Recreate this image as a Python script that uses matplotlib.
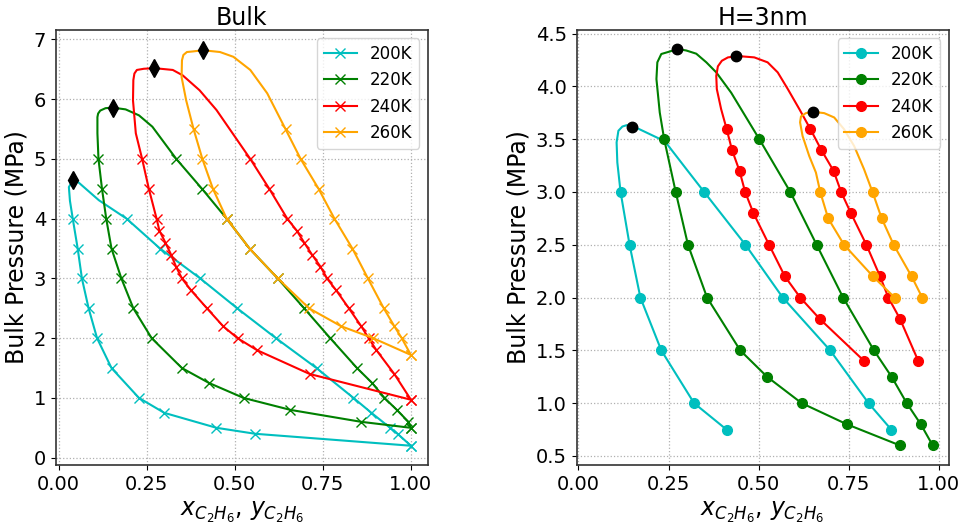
import numpy as np
import matplotlib.pyplot as plt

temps = ['200K', '220K', '240K', '260K']
colors = ['c', 'g', 'r', 'orange']

# ---------------- Bulk ----------------
# pressures (MPa) of the simulated points, vapour (y) and liquid (x) ethane fractions
bulk_p_200 = [0.2, 0.4, 0.5, 0.75, 1.0, 1.5, 2.0, 2.5, 3.0, 3.5, 4.0]
bulk_y_200 = [1.0, 0.558, 0.448, 0.300, 0.228, 0.150, 0.109, 0.085, 0.066, 0.054, 0.040]
bulk_x_200 = [1.0, 0.962, 0.941, 0.888, 0.837, 0.732, 0.617, 0.507, 0.402, 0.288, 0.193]

bulk_p_220 = [0.5, 0.6, 0.8, 1.0, 1.25, 1.5, 2.0, 2.5, 3.0, 3.5, 4.0, 4.5, 5.0]
bulk_y_220 = [1.0, 0.859, 0.658, 0.525, 0.427, 0.350, 0.264, 0.212, 0.178, 0.150, 0.135, 0.123, 0.113]
bulk_x_220 = [1.0, 0.993, 0.960, 0.925, 0.890, 0.847, 0.771, 0.697, 0.622, 0.542, 0.477, 0.407, 0.334]

bulk_p_240 = [0.97, 1.4, 1.8, 2.0, 2.2, 2.5, 2.8, 3.0, 3.2, 3.4, 3.6, 3.8, 4.0, 4.5, 5.0]
bulk_y_240 = [1.0, 0.713, 0.563, 0.508, 0.467, 0.421, 0.376, 0.350, 0.333, 0.319, 0.303, 0.286, 0.278, 0.256, 0.237]
bulk_x_240 = [1.0, 0.953, 0.902, 0.880, 0.859, 0.824, 0.788, 0.762, 0.743, 0.719, 0.697, 0.676, 0.649, 0.598, 0.544]

bulk_p_260 = [1.72, 2.0, 2.2, 2.5, 3.0, 3.5, 4.0, 4.5, 5.0, 5.5]
bulk_y_260 = [1.0, 0.893, 0.802, 0.711, 0.622, 0.542, 0.477, 0.438, 0.408, 0.383]
bulk_x_260 = [1.0, 0.974, 0.953, 0.923, 0.878, 0.834, 0.783, 0.738, 0.687, 0.644]

# critical points
bulk_crit_x = [0.041, 0.153, 0.272, 0.410]
bulk_crit_p = [4.65, 5.86, 6.52, 6.82]

# envelope curve near the critical point (vapour side, then liquid side)
bulk_top_vap = [
    [[0.032, 4.30], [0.029, 4.53]],
    [[0.110, 5.43], [0.110, 5.70], [0.112, 5.76], [0.118, 5.81], [0.133, 5.85]],
    [[0.219, 5.43], [0.211, 5.98], [0.212, 6.32], [0.215, 6.43], [0.222, 6.49], [0.242, 6.51]],
    [[0.362, 5.98], [0.349, 6.37], [0.350, 6.65], [0.354, 6.74], [0.364, 6.79], [0.381, 6.80]],
]
bulk_top_liq = [
    [[0.050, 4.64], [0.114, 4.31]],
    [[0.190, 5.83], [0.228, 5.73], [0.266, 5.54]],
    [[0.324, 6.49], [0.352, 6.40], [0.400, 6.15], [0.448, 5.82]],
    [[0.458, 6.79], [0.496, 6.71], [0.544, 6.49], [0.592, 6.10]],
]

# ---------------- H = 3 nm ----------------
pore_p_200 = [0.75, 1.0, 1.5, 2.0, 2.5, 3.0]
pore_y_200 = [0.411, 0.321, 0.230, 0.172, 0.142, 0.117]
pore_x_200 = [0.868, 0.805, 0.6985, 0.567, 0.4635, 0.349]

pore_p_220 = [0.6, 0.8, 1.0, 1.25, 1.5, 2.0, 2.5, 3.0, 3.5]
pore_y_220 = [0.892, 0.745, 0.6195, 0.5235, 0.449, 0.357, 0.304, 0.270, 0.238]
pore_x_220 = [0.983, 0.950, 0.911, 0.869, 0.820, 0.7345, 0.661, 0.588, 0.502]

pore_p_240 = [1.4, 1.8, 2.0, 2.2, 2.5, 2.8, 3.0, 3.2, 3.4, 3.6]
pore_y_240 = [0.7926, 0.669, 0.6156, 0.573, 0.529, 0.4856, 0.4627, 0.447, 0.426, 0.411]
pore_x_240 = [0.943, 0.892, 0.860, 0.837, 0.799, 0.756, 0.729, 0.708, 0.6737, 0.643]

pore_p_260 = [2.0, 2.2, 2.5, 2.75, 3.0]
pore_y_260 = [0.8775, 0.8175, 0.737, 0.693, 0.671]
pore_x_260 = [0.954, 0.9245, 0.8747, 0.8415, 0.816]

pore_crit_x = [0.148, 0.2746, 0.438, 0.650]
pore_crit_p = [3.62, 4.355, 4.285, 3.76]

pore_top_vap = [
    [[0.108, 3.28], [0.106, 3.47], [0.111, 3.58], [0.122, 3.62], [0.134, 3.633]],
    [[0.2257, 3.753], [0.2165, 4.07], [0.219, 4.228], [0.230, 4.307], [0.253, 4.33]],
    [[0.396, 3.785], [0.384, 3.975], [0.3825, 4.10], [0.387, 4.19], [0.398, 4.243], [0.415, 4.275]],
    [[0.659, 3.184], [0.6405, 3.34], [0.622, 3.53], [0.615, 3.66], [0.6175, 3.715], [0.631, 3.747]],
]
pore_top_liq = [
    [[0.166, 3.60], [0.203, 3.54], [0.240, 3.48], [0.300, 3.215]],
    [[0.2995, 4.34], [0.327, 4.31], [0.355, 4.228], [0.3825, 4.133], [0.424, 3.94]],
    [[0.4516, 4.285], [0.488, 4.275], [0.525, 4.228], [0.553, 4.133], [0.581, 3.975], [0.613, 3.785]],
    [[0.682, 3.747], [0.7097, 3.706], [0.737, 3.595], [0.765, 3.436], [0.7926, 3.215]],
]

bulk = [(bulk_p_200, bulk_y_200, bulk_x_200), (bulk_p_220, bulk_y_220, bulk_x_220),
        (bulk_p_240, bulk_y_240, bulk_x_240), (bulk_p_260, bulk_y_260, bulk_x_260)]
pore = [(pore_p_200, pore_y_200, pore_x_200), (pore_p_220, pore_y_220, pore_x_220),
        (pore_p_240, pore_y_240, pore_x_240), (pore_p_260, pore_y_260, pore_x_260)]

fig, (ax1, ax2) = plt.subplots(1, 2, figsize=(9.63, 5.25), dpi=100)
plt.subplots_adjust(left=0.058, right=0.985, bottom=0.114, top=0.943, wspace=0.4)


def envelope(ax, data, top_vap, top_liq, cx, cp, marker, crit_marker, crit_ms):
    for i in range(4):
        p, y, x = data[i]
        n = len(p)
        tv = np.array(top_vap[i])
        tl = np.array(top_liq[i])
        # vapour branch up to critical point, then liquid branch back down
        lx = np.concatenate([y, tv[:, 0], [cx[i]], tl[:, 0], x[::-1]])
        lp = np.concatenate([p, tv[:, 1], [cp[i]], tl[:, 1], p[::-1]])
        start = n + len(tv) + 1 + len(tl)
        idx = list(range(n)) + list(range(start, start + n))
        ax.plot(lx, lp, color=colors[i], lw=1.5, marker=marker, ms=7,
                markevery=idx, label=temps[i])
    ax.plot(cx, cp, color='k', marker=crit_marker, ms=crit_ms, linestyle='none', zorder=5)


envelope(ax1, bulk, bulk_top_vap, bulk_top_liq, bulk_crit_x, bulk_crit_p, 'x', 'd', 9)
envelope(ax2, pore, pore_top_vap, pore_top_liq, pore_crit_x, pore_crit_p, 'o', 'o', 7.5)

ax1.set_xlim(-0.008, 1.048)
ax1.set_ylim(-0.125, 7.16)
ax2.set_xlim(-0.005, 1.027)
ax2.set_ylim(0.413, 4.535)

ax1.set_title('Bulk', fontsize=17, pad=3)
ax2.set_title('H=3nm', fontsize=17, pad=3)

for ax in (ax1, ax2):
    ax.set_xticks([0, 0.25, 0.5, 0.75, 1.0])
    ax.set_xlabel('$x_{C_2H_6}$, $y_{C_2H_6}$', fontsize=17)
    ax.set_ylabel('Bulk Pressure (MPa)', fontsize=17)
    ax.tick_params(labelsize=14)
    ax.grid(True, linestyle=':', color='#b0b0b0', lw=0.9)
    ax.legend(loc='upper right', fontsize=12)
    for s in ax.spines.values():
        s.set_color('#333333')
        s.set_linewidth(1.2)

plt.savefig('out.png', dpi=100)
